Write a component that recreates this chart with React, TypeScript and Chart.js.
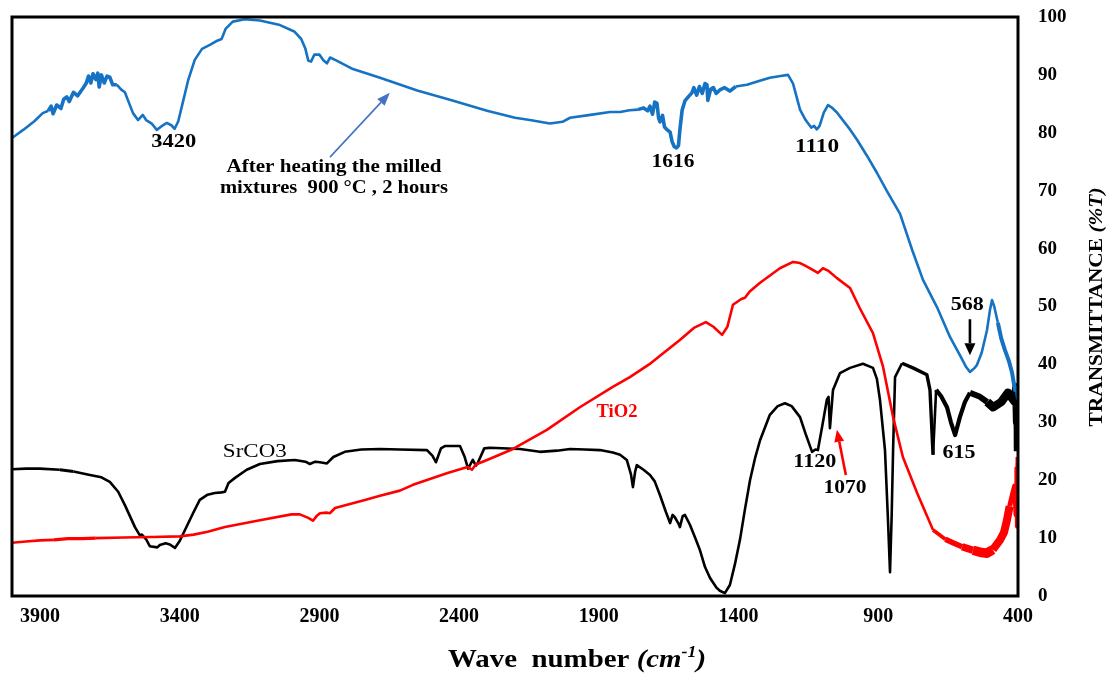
import React, { useEffect, useRef } from "react";
import { Chart, registerables } from "chart.js";

Chart.register(...registerables);

// ---------- DATA ----------
const X_TICKS = [400, 900, 1400, 1900, 2400, 2900, 3400, 3900];

// After heating the milled mixtures (blue)
const blueWn = [
  4000, 3960, 3920, 3890, 3870, 3860, 3853, 3840, 3825, 3815, 3804, 3795, 3780, 3765, 3746, 3735, 3726, 3718, 3710, 3700,
  3693, 3688, 3680, 3670, 3660, 3650, 3640, 3625, 3610, 3596, 3580, 3567, 3549, 3532, 3520, 3500, 3482, 3460, 3446, 3430,
  3418, 3405, 3390, 3370, 3346, 3320, 3292, 3270, 3250, 3235, 3210, 3167, 3113, 3041, 2990, 2965, 2950, 2940, 2930, 2918,
  2900, 2885, 2873, 2862, 2840, 2780, 2683, 2550, 2433, 2300, 2200, 2147, 2075, 2030, 2003, 1930, 1860, 1824, 1790, 1760,
  1740, 1725, 1717, 1708, 1700, 1692, 1686, 1681, 1672, 1665, 1655, 1645, 1638, 1630, 1622, 1615, 1610, 1602, 1592, 1580,
  1567, 1560, 1550, 1540, 1530, 1520, 1513, 1510, 1500, 1490, 1480, 1467, 1450, 1431, 1410, 1370, 1330, 1288, 1250, 1223,
  1205, 1180, 1160, 1140, 1130, 1120, 1110, 1095, 1080, 1065, 1048, 1000, 976, 940, 905, 870, 822, 779, 740, 690,
  643, 608, 585, 572, 555, 547, 530, 511, 500, 493, 485, 472, 460, 447, 432, 421, 411, 405, 400,
];
const blueT = [
  79.1, 80.5, 82, 83.4, 83.8, 84.6, 83.3, 84.8, 84.2, 85.8, 86.2, 85.4, 87, 86.4, 87.7, 88.5, 89.8, 88.6, 90.2, 89.2,
  90.3, 87.9, 90, 88.6, 89.8, 89.6, 88.3, 88.3, 87.5, 87, 85, 83.4, 82.2, 83.1, 82.2, 81.6, 80.5, 81.3, 81.7, 81.3,
  80.7, 82, 85, 89, 92.6, 94.5, 95.2, 95.8, 96.2, 98, 99.2, 99.6, 99.4, 98.6, 97.5, 96.2, 94.5, 92.5, 92.3, 93.5,
  93.5, 92.5, 92, 93, 92.5, 91, 89.5, 87.3, 85.7, 83.8, 82.6, 82.2, 81.6, 81.9, 82.6, 83.1, 83.6, 83.6, 83.9, 84,
  84.3, 83.8, 84.6, 83.2, 85.3, 85.1, 82.5, 81.9, 83, 81, 80.5, 80.1, 78.5, 77.6, 77.4, 77.8, 80.5, 83.9, 85.5, 86.2,
  86.9, 87.8, 86.5, 88, 86.8, 88.5, 88.3, 85.6, 87.5, 87.8, 86.8, 87.4, 87.8, 87.2, 88, 88.3, 88.9, 89.5, 89.8, 90,
  88.5, 84, 82.2, 80.9, 81.2, 80.6, 81.2, 83.5, 84.8, 84.3, 83.5, 80.5, 78.8, 76, 73.1, 70, 66, 59.8, 54.6, 49.9,
  44.7, 41.6, 39.5, 38.7, 39.4, 39.9, 42, 45.9, 49.5, 51.1, 50, 47.2, 44.5, 42.5, 40.5, 38.5, 35.6, 36, 34,
];

// TiO2 (red)
const redWn = [
  4000, 3950, 3900, 3850, 3800, 3750, 3700, 3600, 3500, 3400, 3350, 3300, 3238, 3113, 3000, 2970, 2940, 2923, 2910, 2898,
  2875, 2862, 2850, 2844, 2737, 2683, 2612, 2565, 2444, 2370, 2354, 2340, 2300, 2207, 2086, 1968, 1850, 1789, 1720, 1681,
  1610, 1560, 1517, 1490, 1459, 1440, 1420, 1390, 1377, 1360, 1323, 1252, 1205, 1180, 1160, 1144, 1116, 1098, 1080, 1048,
  1001, 966, 919, 883, 847, 812, 761, 704, 660, 633, 600, 561, 530, 511, 490, 464, 450, 440, 430, 420,
  412, 407, 404, 402, 400,
];
const redT = [
  9.2, 9.4, 9.6, 9.7, 9.9, 9.9, 10, 10.1, 10.2, 10.3, 10.6, 11.1, 11.9, 13.1, 14.1, 14.1, 13.5, 13.0, 13.8, 14.3,
  14.4, 14.3, 14.9, 15.2, 16.6, 17.3, 18.2, 19.2, 21.2, 22.3, 21.8, 22.7, 23.5, 25.4, 28.7, 32.6, 36.1, 37.8, 40, 41.5,
  44.2, 46.3, 47.3, 46.5, 45.1, 46.5, 50.3, 51.3, 51.5, 52.6, 54.1, 56.6, 57.7, 57.5, 57, 56.6, 55.8, 56.6, 56.2, 54.9,
  53.2, 49.7, 45.4, 39.6, 30.9, 24, 17.8, 11.4, 9.8, 9.2, 8.5, 7.9, 7.5, 7.4, 8, 9.7, 11, 13, 15.5, 17.5,
  19, 14, 22, 12, 24,
];

// SrCO3 (black)
const blackWn = [
  4000, 3950, 3900, 3829, 3780, 3721, 3680, 3650, 3620, 3596, 3560, 3543, 3535, 3520, 3507, 3480, 3471, 3450, 3435, 3417,
  3400, 3381, 3350, 3328, 3300, 3274, 3250, 3238, 3225, 3202, 3160, 3113, 3050, 2988, 2950, 2934, 2915, 2898, 2873, 2850,
  2809, 2750, 2683, 2612, 2515, 2495, 2483, 2465, 2451, 2397, 2380, 2368, 2351, 2340, 2333, 2310, 2290, 2182, 2111, 2050,
  2003, 1950, 1896, 1850, 1824, 1800, 1785, 1778, 1770, 1764, 1740, 1717, 1700, 1681, 1660, 1645, 1636, 1628, 1615, 1610,
  1600, 1592, 1574, 1555, 1538, 1520, 1502, 1480, 1467, 1449, 1431, 1413, 1395, 1377, 1359, 1340, 1323, 1288, 1260, 1234,
  1210, 1180, 1160, 1137, 1125, 1116, 1100, 1084, 1078, 1073, 1062, 1037, 1001, 955, 919, 905, 894, 876, 866, 858,
  852, 847, 840, 815, 776, 726, 715, 704, 693, 675, 654, 640, 625, 608, 590, 572, 536, 510, 489, 460,
  436, 411, 406, 403, 401, 400,
];
const blackT = [
  21.9, 22, 22, 21.8, 21.5, 20.9, 20.5, 19.7, 18, 15.7, 11.9, 10.5, 10.6, 9.8, 8.6, 8.4, 8.8, 9.1, 8.9, 8.3,
  9.5, 11.4, 14.5, 16.6, 17.5, 17.8, 17.9, 18, 19.5, 20.4, 21.8, 22.8, 23.3, 23.5, 23.2, 22.8, 23.2, 23.1, 22.9, 24,
  24.9, 25.3, 25.4, 25.3, 25.2, 24.2, 23.1, 25.5, 25.9, 25.9, 24, 22, 23.5, 22.5, 23, 25.5, 25.6, 25.4, 24.9, 25.1,
  25.4, 25.3, 25.2, 24.8, 24.4, 23.5, 21, 18.8, 21.5, 22.6, 21.8, 20.9, 19.8, 17.4, 14.5, 12.6, 14, 13.6, 12.5, 11.9,
  13.8, 14, 12.3, 10, 7.9, 5, 3.1, 1.5, 0.9, 0.5, 1.9, 5.5, 9.7, 15, 20, 24, 26.9, 31.3, 32.8, 33.3,
  32.8, 30.9, 28, 24.9, 25.3, 25.2, 29.5, 33.9, 34.4, 29, 35.6, 38.5, 39.4, 40.1, 39.4, 37.5, 33.9, 25.2, 14, 4.1,
  14, 25.2, 37.8, 40.2, 39.4, 38.2, 35.6, 24.4, 35.6, 34.5, 32.6, 30, 27.8, 30.9, 33.5, 35.1, 34.4, 33.5, 32.6, 33.5,
  35.1, 33.5, 36, 30, 34, 25,
];

// ---------- STYLE ----------
const SERIF = "'Times New Roman', 'Liberation Serif', serif";
const W = 1107;
const H = 673;
const BASE_W = 2.6;
type Band = [number, number, number];
const BLUE_BANDS: Band[] = [[3870, 3630, 3.6], [1760, 1420, 3.6], [470, 400, 4]];
const RED_BANDS: Band[] = [
  [3860, 3680, 3.2], [720, 660, 3.8], [660, 600, 5.5], [600, 560, 7.5], [560, 480, 9.5], [480, 430, 8], [430, 400, 5],
];
const BLACK_BANDS: Band[] = [[3860, 3780, 3.2], [800, 700, 3.4], [690, 560, 4.2], [560, 520, 6], [520, 400, 8.5]];

function widthAt(bands: Band[], wn: number) {
  for (const [a, b, w] of bands) if (wn <= a && wn >= b) return w;
  return BASE_W;
}

type Seg = { text: string; font: string; dy?: number };
type Label = { segs: Seg[]; x: number; y: number; color: string; w: number };

const bold = (s: number) => `bold ${s}px ${SERIF}`;
const reg = (s: number) => `${s}px ${SERIF}`;
const boldIt = (s: number) => `italic bold ${s}px ${SERIF}`;

const LABELS: Label[] = [
  { segs: [{ text: "3420", font: bold(19) }], x: 3421, y: 78.4, color: "#000", w: 45 },
  { segs: [{ text: "After heating the milled", font: bold(18) }], x: 2848, y: 74.1, color: "#000", w: 215 },
  { segs: [{ text: "mixtures  900 \u00B0C , 2 hours", font: bold(18) }], x: 2848, y: 70.4, color: "#000", w: 228 },
  { segs: [{ text: "1616", font: bold(19) }], x: 1635, y: 75, color: "#000", w: 43 },
  { segs: [{ text: "1110", font: bold(19) }], x: 1119, y: 77.5, color: "#000", w: 44 },
  { segs: [{ text: "568", font: bold(19) }], x: 582, y: 50.3, color: "#000", w: 33 },
  { segs: [{ text: "1120", font: bold(19) }], x: 1127, y: 23.1, color: "#000", w: 43 },
  { segs: [{ text: "1070", font: bold(19) }], x: 1019, y: 18.7, color: "#000", w: 43 },
  { segs: [{ text: "615", font: bold(19) }], x: 611, y: 24.7, color: "#000", w: 33 },
  { segs: [{ text: "SrCO3", font: reg(19) }], x: 3131, y: 24.9, color: "#000", w: 64 },
  { segs: [{ text: "TiO2", font: bold(18) }], x: 1835, y: 31.8, color: "#FF0000", w: 41 },
];

type Arrow = { x1: number; y1: number; x2: number; y2: number; color: string; lw: number; hl: number; hw: number };
const ARROWS: Arrow[] = [
  { x1: 2862, y1: 75.8, x2: 2648, y2: 86.9, color: "#4472C4", lw: 1.6, hl: 13, hw: 10 },
  { x1: 572, y1: 47.8, x2: 572, y2: 41.6, color: "#000", lw: 2.6, hl: 12, hw: 11 },
  { x1: 1016, y1: 20.9, x2: 1048, y2: 28.7, color: "#FF0000", lw: 2.6, hl: 12, hw: 10 },
];

function drawRich(ctx: CanvasRenderingContext2D, segs: Seg[], cx: number, cy: number, targetW: number, rotate = false) {
  const widths = segs.map((s) => {
    ctx.font = s.font;
    return ctx.measureText(s.text).width;
  });
  const total = widths.reduce((a, b) => a + b, 0);
  const sx = targetW / total;
  ctx.save();
  ctx.translate(cx, cy);
  if (rotate) ctx.rotate(-Math.PI / 2);
  ctx.scale(sx, 1);
  ctx.textBaseline = "middle";
  ctx.textAlign = "left";
  let x = -total / 2;
  segs.forEach((s, i) => {
    ctx.font = s.font;
    ctx.fillText(s.text, x, s.dy || 0);
    x += widths[i];
  });
  ctx.restore();
}

function drawArrow(ctx: CanvasRenderingContext2D, x1: number, y1: number, x2: number, y2: number, a: Arrow) {
  const ang = Math.atan2(y2 - y1, x2 - x1);
  const bx = x2 - Math.cos(ang) * a.hl;
  const by = y2 - Math.sin(ang) * a.hl;
  ctx.save();
  ctx.strokeStyle = a.color;
  ctx.fillStyle = a.color;
  ctx.lineWidth = a.lw;
  ctx.beginPath();
  ctx.moveTo(x1, y1);
  ctx.lineTo(bx, by);
  ctx.stroke();
  const px = -Math.sin(ang) * (a.hw / 2);
  const py = Math.cos(ang) * (a.hw / 2);
  ctx.beginPath();
  ctx.moveTo(x2, y2);
  ctx.lineTo(bx + px, by + py);
  ctx.lineTo(bx - px, by - py);
  ctx.closePath();
  ctx.fill();
  ctx.restore();
}

const overlay = {
  id: "overlay",
  afterDraw(chart: any) {
    const ctx: CanvasRenderingContext2D = chart.ctx;
    const { left, right, top, bottom } = chart.chartArea;
    const xs = chart.scales.x;
    const ys = chart.scales.y;
    // frame
    ctx.save();
    ctx.strokeStyle = "#000";
    ctx.lineWidth = 3;
    ctx.strokeRect(left, top, right - left, bottom - top);
    ctx.restore();
    // labels
    ctx.save();
    for (const l of LABELS) {
      ctx.fillStyle = l.color;
      drawRich(ctx, l.segs, xs.getPixelForValue(l.x), ys.getPixelForValue(l.y), l.w);
    }
    ctx.restore();
    for (const a of ARROWS) {
      drawArrow(ctx, xs.getPixelForValue(a.x1), ys.getPixelForValue(a.y1), xs.getPixelForValue(a.x2), ys.getPixelForValue(a.y2), a);
    }
    // axis titles
    ctx.save();
    ctx.fillStyle = "#000";
    drawRich(
      ctx,
      [
        { text: "Wave  number ", font: bold(26) },
        { text: "(cm", font: boldIt(26) },
        { text: "-1", font: boldIt(16), dy: -7 },
        { text: ")", font: boldIt(26) },
      ],
      577,
      660,
      258
    );
    drawRich(
      ctx,
      [
        { text: "TRANSMITTANCE ", font: bold(18) },
        { text: "(%T)", font: boldIt(18) },
      ],
      1097,
      307,
      239,
      true
    );
    ctx.restore();
  },
};

const toXY = (xs: number[], ys: number[]) => xs.map((x, i) => ({ x, y: ys[i] }));

export default function App() {
  const ref = useRef<HTMLCanvasElement | null>(null);
  useEffect(() => {
    if (!ref.current) return;
    const mk = (data: any, color: string, bands: Band[], order: number) => ({
      data,
      borderColor: color,
      backgroundColor: color,
      borderWidth: BASE_W,
      pointRadius: 0,
      tension: 0,
      fill: false,
      order,
      borderJoinStyle: "round",
      borderCapStyle: "butt",
      segment: {
        borderWidth: (c: any) => widthAt(bands, (c.p0.parsed.x + c.p1.parsed.x) / 2),
      },
    });
    const chart = new Chart(ref.current, {
      type: "line",
      data: {
        datasets: [
          { label: "After heating", ...mk(toXY(blueWn, blueT), "#1673C3", BLUE_BANDS, 1) },
          { label: "TiO2", ...mk(toXY(redWn, redT), "#FF0000", RED_BANDS, 2) },
          { label: "SrCO3", ...mk(toXY(blackWn, blackT), "#000000", BLACK_BANDS, 3) },
        ] as any,
      },
      options: {
        animation: false,
        responsive: false,
        maintainAspectRatio: false,
        events: [],
        layout: { padding: { top: 17, left: 12, right: 0, bottom: 0 } },
        plugins: { legend: { display: false }, tooltip: { enabled: false }, title: { display: false } },
        scales: {
          x: {
            type: "linear",
            reverse: true,
            min: 400,
            max: 4000,
            grid: { display: false, drawTicks: false },
            border: { display: false },
            afterBuildTicks: (s: any) => {
              s.ticks = X_TICKS.map((v) => ({ value: v }));
            },
            afterFit: (s: any) => {
              s.height = 77;
              s.paddingLeft = 0;
              s.paddingRight = 0;
            },
            ticks: {
              color: "#000",
              font: { family: SERIF, size: 20, weight: "bold" },
              padding: 9,
              maxRotation: 0,
              autoSkip: false,
              callback: (v: any) => String(v),
            },
          },
          y: {
            position: "right",
            min: 0,
            max: 100,
            grid: { display: false, drawTicks: false },
            border: { display: false },
            afterFit: (s: any) => {
              s.width = 89;
              s.paddingTop = 0;
              s.paddingBottom = 0;
            },
            ticks: {
              stepSize: 10,
              color: "#000",
              font: { family: SERIF, size: 19, weight: "bold" },
              padding: 20,
            },
          },
        },
      } as any,
      plugins: [overlay],
    });
    return () => chart.destroy();
  }, []);
  return (
    <div style={{ position: "fixed", left: 0, top: 0, width: W, height: H, background: "#fff" }}>
      <canvas ref={ref} width={W} height={H} style={{ display: "block", width: W, height: H }} />
    </div>
  );
}
